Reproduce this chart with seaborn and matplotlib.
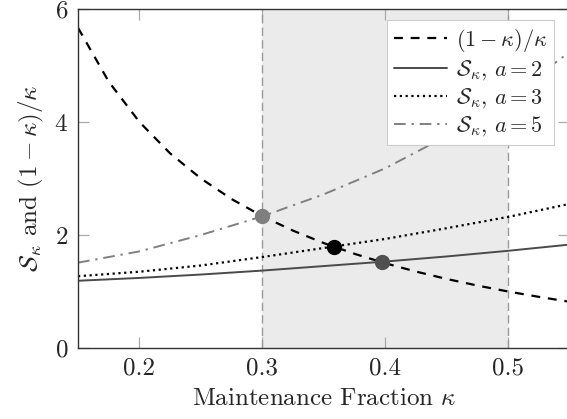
import numpy as np
import pandas as pd
import seaborn as sns
import matplotlib
matplotlib.use('Agg')
import matplotlib.pyplot as plt

# values
kappa_fine = [0.15, 0.175, 0.2, 0.225, 0.25, 0.275, 0.3, 0.325, 0.35,
              0.375, 0.4, 0.425, 0.45, 0.475, 0.5, 0.525, 0.55]
ratio = [5.667, 4.714, 4.0, 3.444, 3.0, 2.636, 2.333, 2.077, 1.857,
         1.667, 1.5, 1.353, 1.222, 1.105, 1.0, 0.905, 0.818]

kappa = [0.15, 0.2, 0.25, 0.3, 0.35, 0.4, 0.45, 0.5, 0.55]
s_a2 = [1.19, 1.24, 1.30, 1.37, 1.45, 1.53, 1.62, 1.72, 1.83]
s_a3 = [1.27, 1.35, 1.46, 1.61, 1.77, 1.93, 2.12, 2.32, 2.55]
s_a5 = [1.51, 1.71, 2.00, 2.33, 2.72, 3.18, 3.75, 4.42, 5.24]

# crossing points (kappa, value)
cross_k = [0.300, 0.358, 0.397]
cross_v = [2.333, 1.793, 1.519]
cross_col = ['#7f7f7f', '#000000', '#505050']

band = [0.3, 0.5]

sns.set_style('ticks')
plt.rcParams['font.family'] = ['cmr10', 'DejaVu Serif']
plt.rcParams['mathtext.fontset'] = 'cm'
plt.rcParams['axes.formatter.use_mathtext'] = True

fig = plt.figure(figsize=(5.67, 4.19), dpi=100)
ax = fig.add_axes([0.1376, 0.1695, 0.8668, 0.809])

ax.axvspan(band[0], band[1], color='#ebebeb', zorder=0, lw=0)
for b in band:
    ax.axvline(b, color='#999999', ls=(0, (6, 3)), lw=1.0, zorder=1)

sns.lineplot(x=kappa_fine, y=ratio, ax=ax, color='black', lw=1.6,
             ls=(0, (4, 3.5)), label=r'$(1-\kappa)/\kappa$')
sns.lineplot(x=kappa, y=s_a2, ax=ax, color='#4a4a4a', lw=1.4,
             label=r'$\mathcal{S}_\kappa,\, a=2$')
sns.lineplot(x=kappa, y=s_a3, ax=ax, color='black', lw=1.6,
             ls=(0, (1, 1.6)), label=r'$\mathcal{S}_\kappa,\, a=3$')
sns.lineplot(x=kappa, y=s_a5, ax=ax, color='#808080', lw=1.4,
             ls=(0, (6, 3, 1.2, 3)), label=r'$\mathcal{S}_\kappa,\, a=5$')

for k, v, c in zip(cross_k, cross_v, cross_col):
    ax.plot(k, v, 'o', color=c, ms=10, zorder=5)

ax.set_xlim(0.15, 0.55)
ax.set_ylim(0, 6)
ax.set_xticks([0.2, 0.3, 0.4, 0.5])
ax.set_yticks([0, 2, 4, 6])
ax.set_xticklabels(['0.2', '0.3', '0.4', '0.5'])
ax.tick_params(direction='in', length=8, width=0.9, color='#aaaaaa',
               top=True, right=True, labelsize=18, pad=7)
for sp in ax.spines.values():
    sp.set_color('#333333')
    sp.set_linewidth(1.0)
    sp.set_visible(True)

ax.set_xlabel(r'Maintenance Fraction $\kappa$', fontsize=18, labelpad=6)
ax.set_ylabel(r'$\mathcal{S}_\kappa$ and $(1-\kappa)/\kappa$', fontsize=18, labelpad=6)

leg = ax.legend(loc='upper right', bbox_to_anchor=(0.969, 0.968),
                borderaxespad=0, fontsize=16, handlelength=2.4,
                handletextpad=0.4, labelspacing=0.2, borderpad=0.3,
                fancybox=False, framealpha=1, edgecolor='#cccccc')
leg.get_frame().set_linewidth(0.8)

fig.savefig('out.png', dpi=100)
